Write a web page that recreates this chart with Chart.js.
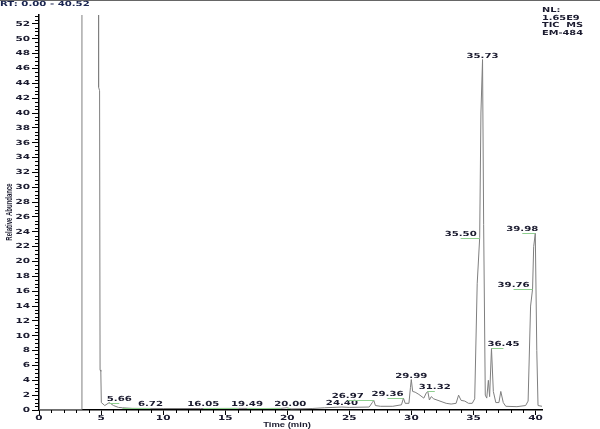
<!DOCTYPE html>
<html>
<head>
<meta charset="utf-8">
<script src="https://cdn.jsdelivr.net/npm/chart.js@4/dist/chart.umd.min.js"></script>
<style>
  body { margin: 0; background: #fff; }
  canvas { display: block; }
</style>
</head>
<body>
<canvas id="tic" width="600" height="429"></canvas>
<script>
// retention time (min) and relative abundance (%)
const times = [0, 3.40, 3.46, 4.78, 4.80, 4.88, 4.92, 4.98, 5.02, 5.30, 5.66, 6.00, 6.40, 6.72, 7.50,
  10.0, 13.0, 16.05, 18.0, 19.49, 20.00, 20.30, 22.0, 23.0, 24.40, 25.0, 26.60, 26.85, 26.97, 27.10,
  27.50, 28.50, 29.20, 29.36, 29.50, 29.80, 29.92, 29.99, 30.10, 30.30, 30.60, 31.00, 31.20, 31.32,
  31.45, 31.60, 31.80, 32.80, 33.20, 33.60, 33.80, 34.00, 34.30, 34.60, 34.90, 35.10, 35.30, 35.50,
  35.60, 35.73, 35.82, 35.95, 36.07, 36.20, 36.30, 36.45, 36.60, 36.80, 37.05, 37.20, 37.40, 37.60,
  38.50, 39.20, 39.40, 39.60, 39.76, 39.85, 39.98, 40.10, 40.20, 40.52];
const abundance = [0.05, 0.05, 120, 120, 43.5, 43, 5.4, 5.2, 1.0, 0.6, 1.0, 0.6, 0.35, 0.3, 0.22,
  0.2, 0.2, 0.22, 0.2, 0.22, 0.3, 0.15, 0.2, 0.3, 0.4, 0.35, 0.4, 1.0, 1.3, 0.6,
  0.5, 0.5, 0.7, 1.6, 0.9, 0.9, 3.0, 4.1, 2.5, 2.4, 2.1, 1.6, 2.3, 2.5,
  1.35, 1.8, 1.5, 0.9, 0.8, 0.9, 2.0, 1.3, 1.2, 0.9, 0.9, 1.5, 17, 23.2,
  40, 47.2, 25, 2.0, 1.6, 4.0, 1.8, 8.3, 2.5, 1.0, 1.0, 2.5, 1.0, 0.5,
  0.45, 0.6, 1.2, 14, 16.3, 22, 23.8, 8, 0.6, 0.5];

// labelled peaks
const peakNames = ['5.66', '6.72', '16.05', '19.49', '20.00', '24.40', '26.97', '29.36', '29.99',
  '31.32', '35.50', '35.73', '36.45', '39.76', '39.98'];
const peakHeights = [1.0, 0.3, 0.22, 0.22, 0.3, 0.4, 1.3, 1.6, 4.1, 2.5, 23.2, 47.2, 8.3, 16.3, 23.8];

const xTickValues = [0, 5, 10, 15, 20, 25, 30, 35, 40];
const yTickValues = [0, 2, 4, 6, 8, 10, 12, 14, 16, 18, 20, 22, 24, 26, 28, 30, 32, 34, 36, 38,
  40, 42, 44, 46, 48, 50, 52];

const INK = '#1b1b2f';

function wideText(ctx, txt, x, y, size, align, sx, family) {
    ctx.save();
    ctx.translate(x, y);
    ctx.scale(sx, 1);
    ctx.font = `bold ${size}px ${family || '"DejaVu Sans"'}`;
    ctx.textAlign = align;
    ctx.fillText(txt, 0, 0);
    ctx.restore();
}

const chromPlugin = {
    id: 'chrom',
    afterDraw(chart, args, opts) {
        const ctx = chart.ctx;
        const xs = chart.scales.x, ys = chart.scales.y;
        const area = chart.chartArea;

        ctx.save();
        // minor ticks
        ctx.strokeStyle = '#000';
        ctx.lineWidth = 1;
        ctx.beginPath();
        for (let v = 0.5; v < ys.max; v += 0.5) {
            if (v % 2 === 0) continue;
            const py = Math.round(ys.getPixelForValue(v)) + 0.5;
            ctx.moveTo(area.left - 4, py);
            ctx.lineTo(area.left, py);
        }
        for (let v = 1; v < xs.max; v += 1) {
            if (v % 5 === 0) continue;
            const px = Math.round(xs.getPixelForValue(v)) + 0.5;
            ctx.moveTo(px, area.bottom);
            ctx.lineTo(px, area.bottom + 3);
        }
        ctx.stroke();

        // tick labels
        ctx.fillStyle = INK;
        ctx.textBaseline = 'middle';
        ys.ticks.forEach(t => {
            wideText(ctx, String(t.value), area.left - 9, ys.getPixelForValue(t.value), 7, 'right', 1.5);
        });
        xs.ticks.forEach(t => {
            wideText(ctx, String(t.value), xs.getPixelForValue(t.value), area.bottom + 8, 7, 'center', 1.5);
        });

        // peak labels with leaders
        ctx.textBaseline = 'alphabetic';
        peakNames.forEach((name, i) => {
            const px = xs.getPixelForValue(parseFloat(name));
            const py = ys.getPixelForValue(peakHeights[i]);
            const dx = opts.shift[i];
            if (dx !== 0) {
                ctx.strokeStyle = '#8fcf8f';
                ctx.beginPath();
                ctx.moveTo(px, Math.round(py) + 0.5);
                ctx.lineTo(px + dx, Math.round(py) + 0.5);
                ctx.stroke();
            }
            ctx.fillStyle = INK;
            wideText(ctx, name, px + dx, py - 2, 7, 'center', 1.45);
        });

        // header texts
        ctx.fillStyle = '#666';
        ctx.fillRect(0, 0, chart.width, 1);
        ctx.fillStyle = '#1a2550';
        ctx.textBaseline = 'middle';
        wideText(ctx, 'RT: 0.00 - 40.52', 0, 4, 7, 'left', 1.45);
        ctx.fillStyle = INK;
        ['NL:', '1.65E9', 'TIC  MS', 'EM-484'].forEach((s, i) => {
            wideText(ctx, s, 542, 10 + i * 7.7, 7, 'left', 1.4);
        });

        // axis titles
        wideText(ctx, 'Time (min)', 287, 425, 7, 'center', 1.35, '"Liberation Sans"');
        ctx.save();
        ctx.translate(10, 212);
        ctx.rotate(-Math.PI / 2);
        ctx.scale(1, 1.4);
        ctx.font = 'bold 6px "Liberation Sans"';
        ctx.textAlign = 'center';
        ctx.fillText('Relative Abundance', 0, 0);
        ctx.restore();
        ctx.restore();
    }
};

const ctx = document.getElementById('tic').getContext('2d');
const ticChart = new Chart(ctx, {
    type: 'line',
    data: {
        datasets: [{
            data: times.map((t, i) => ({ x: t, y: abundance[i] })),
            borderColor: '#7f7f7f',
            borderWidth: 1,
            pointRadius: 0,
            tension: 0,
            fill: false
        }]
    },
    options: {
        responsive: false,
        animation: false,
        devicePixelRatio: 1,
        layout: { padding: { top: 15, right: 58, left: 0, bottom: 0 } },
        scales: {
            x: {
                type: 'linear', min: 0, max: 40.52,
                afterBuildTicks: s => { s.ticks = xTickValues.map(v => ({ value: v })); },
                afterFit: s => { s.height = 19; },
                ticks: { display: false },
                grid: { drawOnChartArea: false, drawTicks: true, tickLength: 5, color: '#000', lineWidth: 1 },
                border: { display: true, color: '#000', width: 1.5 }
            },
            y: {
                type: 'linear', min: 0, max: 53.2,
                afterBuildTicks: s => { s.ticks = yTickValues.map(v => ({ value: v })); },
                afterFit: s => { s.width = 39; },
                ticks: { display: false },
                grid: { drawOnChartArea: false, drawTicks: true, tickLength: 7, color: '#000', lineWidth: 1 },
                border: { display: true, color: '#000', width: 1.5 }
            }
        },
        plugins: {
            legend: { display: false },
            tooltip: { enabled: false },
            chrom: { shift: [10, 28, -35, -34, 3, 0, -26, -16, 0, 7, -19, 0, 12, -19, -13] }
        }
    },
    plugins: [chromPlugin]
});
</script>
</body>
</html>
